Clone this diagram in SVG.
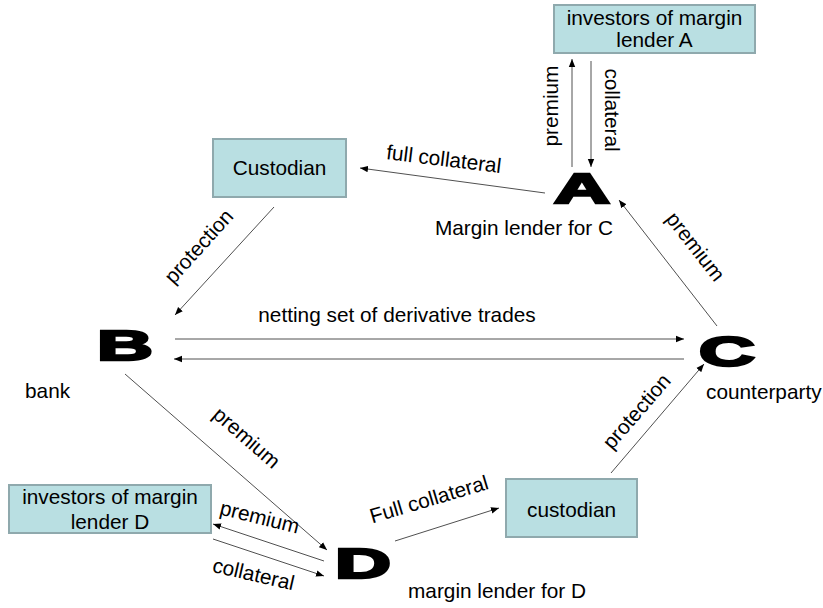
<svg xmlns="http://www.w3.org/2000/svg" width="823" height="608" viewBox="0 0 823 608">
<style>
text{font-family:"Liberation Sans",Arial,sans-serif;font-size:20.8px;fill:#000}
.box{fill:#B9DFE2;stroke:#8FA9AD;stroke-width:2}
.big{font-weight:bold;font-size:43px;stroke:#000;stroke-width:2.5;text-anchor:middle}
.c{text-anchor:middle}
.ln{stroke:#505050;stroke-width:1;fill:none}
.ar{marker-end:url(#ah)}
</style>
<defs>
<marker id="ah" viewBox="0 0 10 10" refX="10" refY="5" markerWidth="8" markerHeight="8" markerUnits="userSpaceOnUse" orient="auto">
<path d="M0,1 L10,5 L0,9 Z" fill="#000"/>
</marker>
</defs>
<rect width="823" height="608" fill="#fff"/>
<g id="connectors">
<line class="ln ar" x1="572" y1="167" x2="572" y2="59"/>
<line class="ln ar" x1="591" y1="61" x2="591" y2="167"/>
<line class="ln ar" x1="545" y1="193" x2="360" y2="168"/>
<line class="ln ar" x1="274" y1="207" x2="175" y2="315"/>
<line class="ln ar" x1="175" y1="339" x2="684" y2="339"/>
<line class="ln ar" x1="684" y1="359" x2="174" y2="359"/>
<line class="ln ar" x1="717" y1="326" x2="619" y2="200"/>
<line class="ln ar" x1="611" y1="473" x2="704" y2="364"/>
<line class="ln ar" x1="125" y1="374" x2="327" y2="550"/>
<line class="ln ar" x1="395" y1="541" x2="499" y2="508"/>
<line class="ln ar" x1="324" y1="561" x2="213" y2="524"/>
<line class="ln ar" x1="213" y1="539" x2="324" y2="576"/>
<text transform="translate(558,106) rotate(-90)" class="c">premium</text>
<text transform="translate(605,110) rotate(90)" class="c">collateral</text>
<text transform="translate(443,166) rotate(7)" class="c">full collateral</text>
<text transform="translate(204,251) rotate(-48)" class="c">protection</text>
<text x="397" y="322" class="c">netting set of derivative trades</text>
<text transform="translate(690,251) rotate(52)" class="c">premium</text>
<text transform="translate(642,416) rotate(-49)" class="c">protection</text>
<text transform="translate(242,443) rotate(41)" class="c">premium</text>
<text transform="translate(431,506) rotate(-16.5)" class="c">Full collateral</text>
<text transform="translate(258,524) rotate(14)" class="c">premium</text>
<text transform="translate(252,581) rotate(13)" class="c">collateral</text>
</g>
<g id="investorsA">
<rect class="box" x="554" y="5" width="201" height="48"/>
<text x="654.5" y="25" class="c">investors of margin</text>
<text x="654.5" y="47" class="c">lender A</text>
</g>
<g id="nodeA">
<text class="big" transform="translate(582,203) scale(1.8,1)">A</text>
<text x="524" y="235" class="c">Margin lender for C</text>
</g>
<g id="custodianTop">
<rect class="box" x="213" y="139" width="133" height="58"/>
<text x="279.5" y="175" class="c">Custodian</text>
</g>
<g id="nodeB">
<text class="big" transform="translate(125,360) scale(1.8,1)">B</text>
<text x="25" y="398">bank</text>
</g>
<g id="nodeC">
<text class="big" transform="translate(727,366) scale(1.8,1)">C</text>
<text x="706" y="399">counterparty</text>
</g>
<g id="custodianBottom">
<rect class="box" x="506" y="479" width="131" height="58"/>
<text x="571.5" y="517" class="c">custodian</text>
</g>
<g id="nodeD">
<text class="big" transform="translate(363,578) scale(1.8,1)">D</text>
<text x="408" y="598">margin lender for D</text>
</g>
<g id="investorsD">
<rect class="box" x="9" y="485" width="202" height="48"/>
<text x="110" y="504" class="c">investors of margin</text>
<text x="110" y="529" class="c">lender D</text>
</g>
</svg>
